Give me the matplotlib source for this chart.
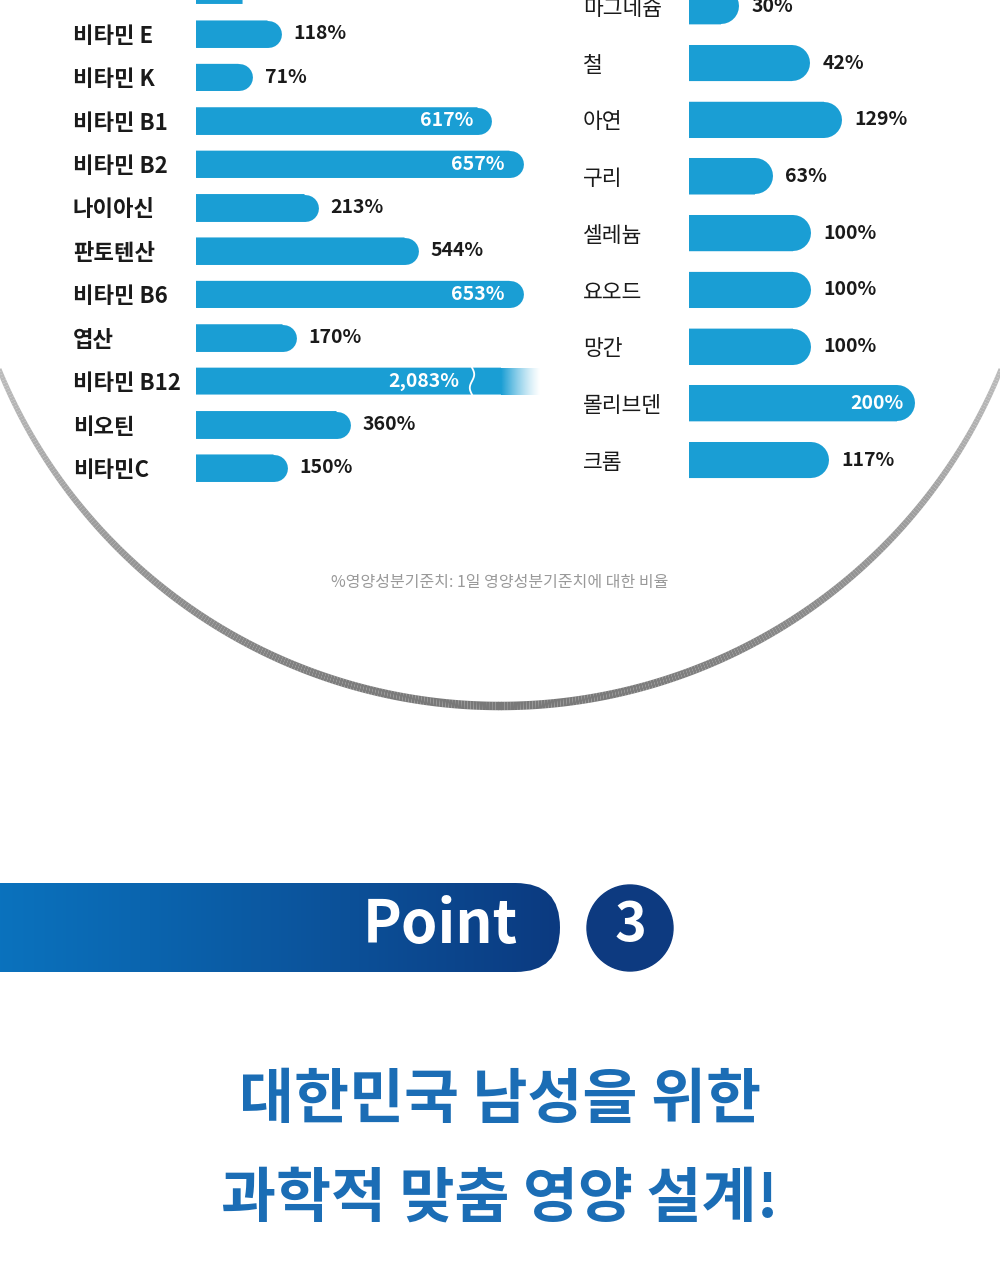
import numpy as np
import matplotlib.pyplot as plt
from matplotlib.patches import FancyBboxPatch, Circle
from matplotlib.collections import LineCollection
from matplotlib.colors import to_rgb

plt.rcParams['font.family'] = ['Noto Sans CJK KR', 'DejaVu Sans']

# 비타민 (왼쪽) - drawn = 그림에 그려진 막대 길이 (디자인상 값에 비례하지 않음)
# 맨 위 막대는 위쪽이 잘려 있어 이름과 수치가 보이지 않음
left_names = ["", "비타민 E", "비타민 K", "비타민 B1", "비타민 B2", "나이아신",
              "판토텐산", "비타민 B6", "엽산", "비타민 B12", "비오틴", "비타민C"]
left_labels = ["", "118%", "71%", "617%", "657%", "213%", "544%", "653%", "170%",
               "2,083%", "360%", "150%"]
left_drawn = [60, 85, 56, 295, 327, 122, 222, 327, 100, 345, 154, 91]
left_inside = ["비타민 B1", "비타민 B2", "비타민 B6", "비타민 B12"]
left_broken = "비타민 B12"

# 무기질 (오른쪽)
right_names = ["마그네슘", "철", "아연", "구리", "셀레늄", "요오드", "망간", "몰리브덴", "크롬"]
right_labels = ["30%", "42%", "129%", "63%", "100%", "100%", "100%", "200%", "117%"]
right_drawn = [50, 121, 153, 84, 122, 122, 122, 226, 140]
right_inside = ["몰리브덴"]

footnote = "%영양성분기준치: 1일 영양성분기준치에 대한 비율"
badge_text = "Point"
badge_num = "3"
title_lines = ["대한민국 남성을 위한", "과학적 맞춤 영양 설계!"]

BAR = "#1a9ed4"
INK = "#1a1a1a"
W, H = 1000, 1280

fig = plt.figure(figsize=(10, 12.8), dpi=100)
fig.patch.set_facecolor("white")

bg = fig.add_axes([0, 0, 1, 1], zorder=0)
bg.set_xlim(0, W)
bg.set_ylim(H, 0)
bg.axis("off")

# 큰 원의 아래쪽 테두리 (회색 그라데이션)
cx, cy, R = 500, 165, 541
t = np.radians(np.linspace(-82, 82, 500))
pts = np.column_stack([cx + R * np.sin(t), cy + R * np.cos(t)]).reshape(-1, 1, 2)
segs = np.concatenate([pts[:-1], pts[1:]], axis=1)
k = np.clip((np.cos(t[:-1]) - 0.3) / 0.7, 0, 1)
gray = 0.77 - 0.30 * k
arc = LineCollection(segs, colors=[(g, g, g) for g in gray],
                     linewidths=(4.5 + 4.0 * k) * 0.72, capstyle="butt")
bg.add_collection(arc)

bg.text(500, 582, footnote, ha="center", va="center", fontsize=11.5,
        color="#999999", fontweight="medium")


def bar_panel(x0, x1, y_top, y_bot, names, labels, drawn, inside, bar_h,
              name_x, name_size, name_weight, val_weight, in_pad, broken=None):
    ax = fig.add_axes([x0 / W, 1 - y_bot / H, (x1 - x0) / W, (y_bot - y_top) / H], zorder=2)
    ax.patch.set_alpha(0)
    for s in ax.spines.values():
        s.set_visible(False)
    ax.set_xticks([])
    ypos = np.arange(len(names))
    ax.set_yticks(ypos, names)
    ax.tick_params(axis="y", length=0, pad=(x0 - name_x) * 0.72)
    for lab in ax.get_yticklabels():
        lab.set_ha("left")
        lab.set_fontsize(name_size)
        lab.set_fontweight(name_weight)
        lab.set_color(INK)

    row_px = (y_bot - y_top) / len(names)
    r = bar_h * row_px / 2
    lw_pt = 2 * r * 0.72
    for i, (nm, lab, L) in enumerate(zip(names, labels, drawn)):
        if nm == broken:
            fade = 40
            ax.barh(i, L - fade, height=bar_h, color=BAR, lw=0, snap=False)
            grad = np.zeros((1, 64, 4))
            grad[..., :3] = to_rgb(BAR)
            grad[..., 3] = np.linspace(1, 0, 64) ** 1.3
            ax.imshow(grad, extent=[L - fade, L, i + bar_h / 2, i - bar_h / 2],
                      aspect="auto", interpolation="bilinear", zorder=3)
            bx = L * 0.8
            yy = np.linspace(i - bar_h / 2, i + bar_h / 2, 40)
            ax.plot(bx + 2.2 * np.sin(np.linspace(0, 2 * np.pi, 40)), yy,
                    color="white", lw=1.3, zorder=4)
            ax.annotate(lab, (bx, i), xytext=(-9, 0), textcoords="offset points",
                        ha="right", va="center", color="white", fontsize=14,
                        fontweight=val_weight, zorder=5)
            continue
        # 막대 + 오른쪽 둥근 끝 (왼쪽 둥근 끝은 축 경계에서 잘림)
        ax.barh(i, L - r, height=bar_h, color=BAR, lw=0, snap=False)
        ax.plot([0, L - r], [i, i], color=BAR, lw=lw_pt, solid_capstyle="round", zorder=3)
        if not lab:
            continue
        if nm in inside:
            ax.annotate(lab, (L, i), xytext=(-in_pad, 0), textcoords="offset points",
                        ha="right", va="center", color="white", fontsize=14,
                        fontweight=val_weight, zorder=5)
        else:
            ax.annotate(lab, (L, i), xytext=(9, 0), textcoords="offset points",
                        ha="left", va="center", color=INK, fontsize=14,
                        fontweight=val_weight, zorder=5)
    ax.set_xlim(0, x1 - x0)
    ax.set_ylim(len(names) - 0.5, -0.5)
    return ax


bar_panel(196, 560, -31.2, 489.6, left_names, left_labels, left_drawn, left_inside,
          0.62, 73, 16, "bold", "bold", 13, broken=left_broken)
bar_panel(689, 1000, -22.0, 488.4, right_names, right_labels, right_drawn, right_inside,
          0.635, 583, 15.5, "medium", "bold", 8)

# Point 배너
clip = FancyBboxPatch((-100, 883), 660, 89, boxstyle="round,pad=0,rounding_size=44.5",
                      transform=bg.transData, facecolor="none", edgecolor="none")
bg.add_patch(clip)
c0 = np.array(to_rgb("#0a7ac6"))
c1 = np.array(to_rgb("#0c3a80"))
u = np.linspace(0, 1, 256)[None, :, None]
band = (c0 + (c1 - c0) * u ** 1.1)
img = bg.imshow(band, extent=[-100, 560, 972, 883], aspect="auto",
                interpolation="bilinear", zorder=1)
img.set_clip_path(clip)
bg.set_xlim(0, W)
bg.set_ylim(H, 0)

bg.text(518, 926, badge_text, ha="right", va="center", fontsize=42,
        fontweight="bold", color="white", zorder=3)
bg.add_patch(Circle((630, 928), 43, color="#0d3a80", zorder=2))
bg.text(630, 926, badge_num, ha="center", va="center", fontsize=39,
        fontweight="bold", color="white", zorder=3)

for yy, line in zip([1101, 1200], title_lines):
    bg.text(500, yy, line, ha="center", va="center", fontsize=43,
            fontweight="black", color="#1b6db5")

fig.savefig("out.png", dpi=100, facecolor="white")
